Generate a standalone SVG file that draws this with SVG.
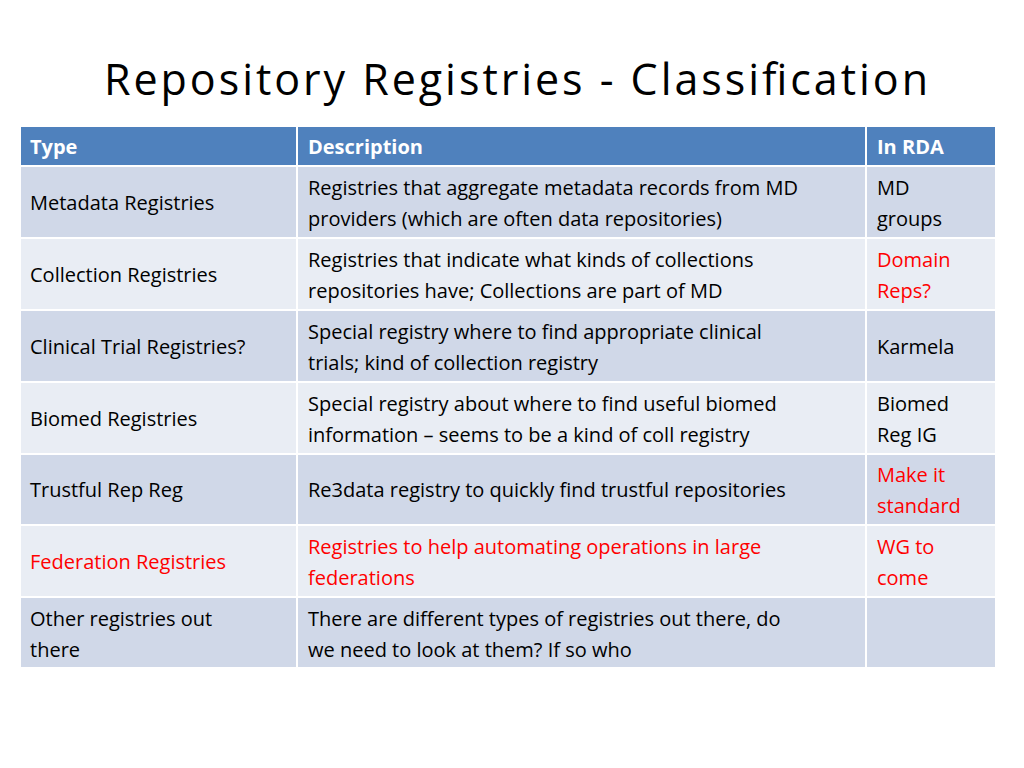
<svg xmlns="http://www.w3.org/2000/svg" width="1024" height="768" viewBox="0 0 1024 768">
<style>
text{font-family:"Open Sans","Liberation Sans",sans-serif;font-size:20px;fill:#000}
.h{fill:#fff;font-weight:bold}
.r{fill:#f00}
.d{fill:#D0D8E8}.l{fill:#E9EDF4}.hd{fill:#4F81BD}
</style>
<rect width="1024" height="768" fill="#fff"/>
<text x="104" y="95" style="font-size:43px" textLength="824">Repository Registries - Classification</text>
<g stroke="#fff" stroke-width="2">
<rect class="hd" x="20" y="126" width="277" height="40"/><rect class="hd" x="297" y="126" width="569" height="40"/><rect class="hd" x="866" y="126" width="130" height="40"/>
<rect class="d" x="20" y="166" width="277" height="72"/><rect class="d" x="297" y="166" width="569" height="72"/><rect class="d" x="866" y="166" width="130" height="72"/>
<rect class="l" x="20" y="238" width="277" height="72"/><rect class="l" x="297" y="238" width="569" height="72"/><rect class="l" x="866" y="238" width="130" height="72"/>
<rect class="d" x="20" y="310" width="277" height="72"/><rect class="d" x="297" y="310" width="569" height="72"/><rect class="d" x="866" y="310" width="130" height="72"/>
<rect class="l" x="20" y="382" width="277" height="72"/><rect class="l" x="297" y="382" width="569" height="72"/><rect class="l" x="866" y="382" width="130" height="72"/>
<rect class="d" x="20" y="454" width="277" height="71"/><rect class="d" x="297" y="454" width="569" height="71"/><rect class="d" x="866" y="454" width="130" height="71"/>
<rect class="l" x="20" y="525" width="277" height="72"/><rect class="l" x="297" y="525" width="569" height="72"/><rect class="l" x="866" y="525" width="130" height="72"/>
<rect class="d" x="20" y="597" width="277" height="71"/><rect class="d" x="297" y="597" width="569" height="71"/><rect class="d" x="866" y="597" width="130" height="71"/>
</g>
<text class="h" x="30" y="154">Type</text><text class="h" x="308" y="154">Description</text><text class="h" x="877" y="154">In RDA</text>
<text x="30" y="210">Metadata Registries</text>
<text x="308" y="195">Registries that aggregate metadata records from MD</text>
<text x="308" y="226">providers (which are often data repositories)</text>
<text x="877" y="195">MD</text><text x="877" y="226">groups</text>
<text x="30" y="282">Collection Registries</text>
<text x="308" y="267">Registries that indicate what kinds of collections</text>
<text x="308" y="298">repositories have; Collections are part of MD</text>
<text class="r" x="877" y="267">Domain</text><text class="r" x="877" y="298">Reps?</text>
<text x="30" y="354">Clinical Trial Registries?</text>
<text x="308" y="339">Special registry where to find appropriate clinical</text>
<text x="308" y="370">trials; kind of collection registry</text>
<text x="877" y="354">Karmela</text>
<text x="30" y="426">Biomed Registries</text>
<text x="308" y="411">Special registry about where to find useful biomed</text>
<text x="308" y="442">information – seems to be a kind of coll registry</text>
<text x="877" y="411">Biomed</text><text x="877" y="442">Reg IG</text>
<text x="30" y="497">Trustful Rep Reg</text>
<text x="308" y="497">Re3data registry to quickly find trustful repositories</text>
<text class="r" x="877" y="482">Make it</text><text class="r" x="877" y="513">standard</text>
<text class="r" x="30" y="569">Federation Registries</text>
<text class="r" x="308" y="554">Registries to help automating operations in large</text>
<text class="r" x="308" y="585">federations</text>
<text class="r" x="877" y="554">WG to</text><text class="r" x="877" y="585">come</text>
<text x="30" y="626">Other registries out</text><text x="30" y="657">there</text>
<text x="308" y="626">There are different types of registries out there, do</text>
<text x="308" y="657">we need to look at them? If so who</text>
</svg>
